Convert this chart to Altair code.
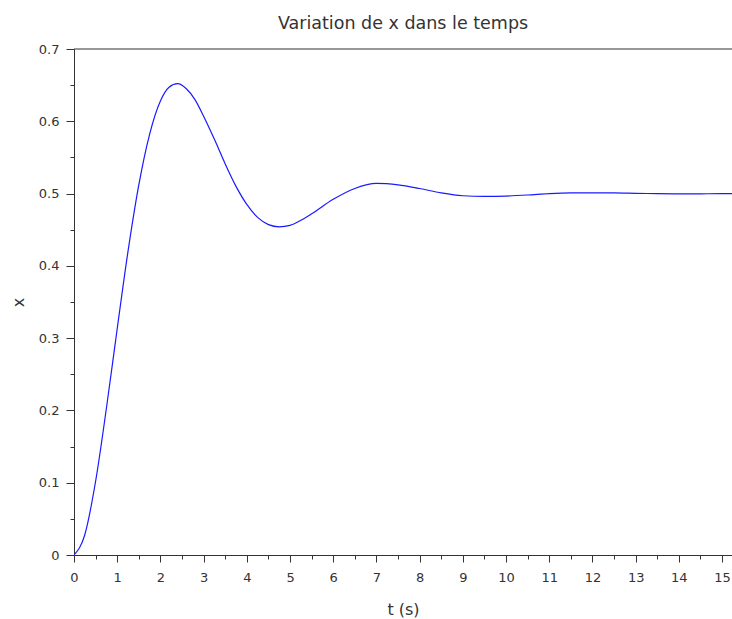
import altair as alt
import pandas as pd

# Time (s) and response x
t_values = [0, 0.25, 0.5, 0.75, 1, 1.25, 1.5, 1.75, 2, 2.2, 2.4, 2.6, 2.8, 3,
            3.25, 3.5, 3.75, 4, 4.25, 4.5, 4.75, 5, 5.25, 5.5, 6, 6.5, 7, 7.5,
            8, 8.5, 9, 9.5, 10, 10.5, 11, 11.5, 12, 12.5, 13, 13.5, 14, 14.5,
            15, 15.25]
x_values = [0, 0.028, 0.102, 0.203, 0.313, 0.420, 0.512, 0.582, 0.628, 0.647,
            0.652, 0.645, 0.630, 0.607, 0.575, 0.541, 0.510, 0.485, 0.467,
            0.457, 0.454, 0.456, 0.463, 0.472, 0.492, 0.507, 0.514, 0.512,
            0.507, 0.501, 0.497, 0.496, 0.4965, 0.498, 0.500, 0.501, 0.501,
            0.501, 0.5004, 0.4999, 0.4997, 0.4997, 0.4999, 0.5]

x_ticks = [0, 0.5, 1, 1.5, 2, 2.5, 3, 3.5, 4, 4.5, 5, 5.5, 6, 6.5, 7, 7.5, 8,
           8.5, 9, 9.5, 10, 10.5, 11, 11.5, 12, 12.5, 13, 13.5, 14, 14.5, 15]
y_ticks = [0, 0.05, 0.1, 0.15, 0.2, 0.25, 0.3, 0.35, 0.4, 0.45, 0.5, 0.55,
           0.6, 0.65, 0.7]

title_text = "Variation de x dans le temps"
x_title = "t (s)"
y_title = "x"

W, H = 658, 506
FONT = "DejaVu Sans"
INK = "#333333"

df = pd.DataFrame({"t": t_values, "x": x_values})

x_axis = alt.Axis(
    values=x_ticks,
    labelExpr="datum.value % 1 == 0 ? format(datum.value, 'd') : ''",
    tickSize={"condition": {"test": "datum.value % 1 != 0", "value": 4}, "value": 7},
    grid=False, labelFlush=False, labelOverlap=False,
    domainColor=INK, tickColor=INK, labelColor=INK,
    labelFont=FONT, labelFontSize=13, labelPadding=9,
    title=x_title, titleFont=FONT, titleFontSize=16, titleFontWeight="normal",
    titleColor=INK, titlePadding=17,
)
y_axis = alt.Axis(
    values=y_ticks,
    labelExpr="round(datum.value*20) % 2 == 0 ? (datum.value == 0 ? '0' : format(datum.value, '.1f')) : ''",
    tickSize={"condition": {"test": "round(datum.value*20) % 2 != 0", "value": 4}, "value": 8},
    grid=False, labelOverlap=False, labelFlush=False,
    domainColor=INK, tickColor=INK, labelColor=INK,
    labelFont=FONT, labelFontSize=13, labelPadding=7,
    title=y_title, titleFont=FONT, titleFontSize=16, titleFontWeight="normal",
    titleColor=INK, titlePadding=12,
)

line = alt.Chart(df).mark_line(
    color="#1a1aff", strokeWidth=1.2, interpolate="monotone", clip=True
).encode(
    x=alt.X("t:Q", scale=alt.Scale(domain=[0, 15.23], nice=False, zero=False), axis=x_axis),
    y=alt.Y("x:Q", scale=alt.Scale(domain=[0, 0.7], nice=False), axis=y_axis),
)

top = alt.Chart(pd.DataFrame({"a": [0]})).mark_rule(color=INK, strokeWidth=1.2).encode(
    x=alt.value(0), x2=alt.value(W), y=alt.value(0)
)

chart = alt.layer(line, top).properties(
    width=W, height=H,
    padding={"left": 74, "top": 49, "right": 0, "bottom": 64},
    autosize=alt.AutoSizeParams(type="none"),
    title=alt.Title(title_text, font=FONT, fontSize=17.5, fontWeight="normal",
                    color=INK, anchor="middle", offset=11),
).configure_view(stroke=None)

chart.save("out.html", embed_options={"renderer": "svg", "actions": False})
